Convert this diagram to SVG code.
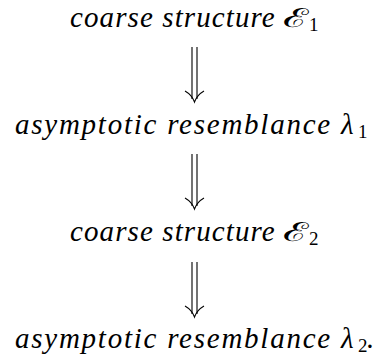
<svg xmlns="http://www.w3.org/2000/svg" width="377" height="362" viewBox="0 0 377 362">
<style>
.a{fill:none;stroke:#000;stroke-width:1.1}
</style>
<rect width="377" height="362" fill="#fff"/>
<defs>
<g id="arr">
<path class="a" d="M192,0 V52 M197,0 V52"/>
<path class="a" d="M185,44 Q192,48 194.5,55 Q197,48 204,44"/>
</g>
</defs>
<g id="n1">
<text x="70" y="27" font-family="Liberation Serif" font-style="italic" font-size="29" letter-spacing="1.1">coarse structure</text>
<text x="283" y="27" font-family="DejaVu Serif" font-size="26" textLength="26" lengthAdjust="spacingAndGlyphs">ℰ</text>
<text x="309" y="31" font-family="Liberation Serif" font-size="19">1</text>
</g>
<g id="n2">
<text x="15" y="134" font-family="Liberation Serif" font-style="italic" font-size="29" letter-spacing="1.75">asymptotic resemblance</text>
<text x="341" y="134" font-family="Liberation Serif" font-style="italic" font-size="29">λ</text>
<text x="358" y="138" font-family="Liberation Serif" font-size="19">1</text>
</g>
<g id="n3">
<text x="70" y="241" font-family="Liberation Serif" font-style="italic" font-size="29" letter-spacing="1.1">coarse structure</text>
<text x="283" y="241" font-family="DejaVu Serif" font-size="26" textLength="26" lengthAdjust="spacingAndGlyphs">ℰ</text>
<text x="309" y="245" font-family="Liberation Serif" font-size="19">2</text>
</g>
<g id="n4">
<text x="15" y="348" font-family="Liberation Serif" font-style="italic" font-size="29" letter-spacing="1.75">asymptotic resemblance</text>
<text x="341" y="348" font-family="Liberation Serif" font-style="italic" font-size="29">λ</text>
<text x="358" y="352" font-family="Liberation Serif" font-size="19">2</text>
<text x="367" y="348" font-family="Liberation Serif" font-style="italic" font-size="29">.</text>
</g>
<g id="connectors">
<use href="#arr" y="47"/>
<use href="#arr" y="154"/>
<use href="#arr" y="262"/>
</g>
</svg>
